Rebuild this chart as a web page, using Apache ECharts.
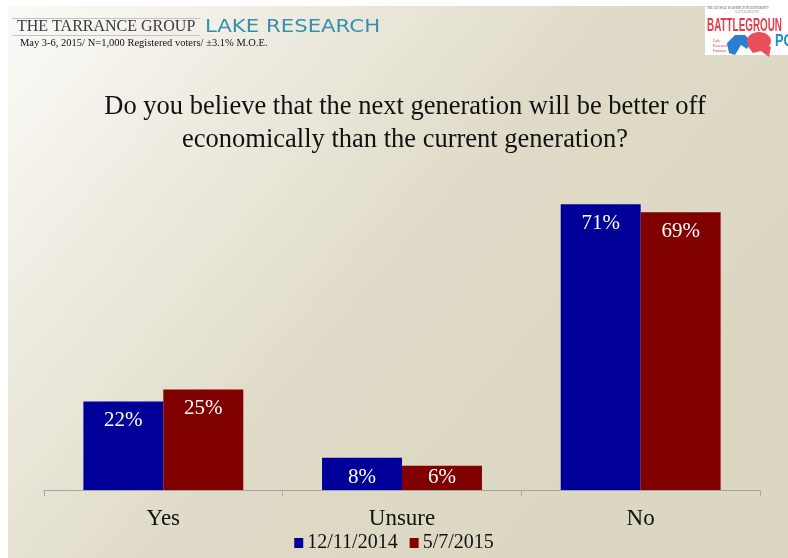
<!DOCTYPE html>
<html>
<head>
<meta charset="utf-8">
<script src="https://cdn.jsdelivr.net/npm/echarts@6/dist/echarts.min.js"></script>
<style>
  html, body { margin: 0; padding: 0; background: #ffffff; }
  #chart { width: 788px; height: 558px; }
</style>
</head>
<body>
<div id="chart"></div>
<script>
// Survey answers and results per wave
const categories = ['Yes', 'Unsure', 'No'];
const wave2014 = [22, 8, 71];
const wave2015 = [25, 6, 69];
const seriesNames = ['12/11/2014', '5/7/2015'];

const titleLines = [
  'Do you believe that the next generation will be better off',
  'economically than the current generation?'
];
const headerLeft = 'THE TARRANCE GROUP';
const headerRight = 'LAKE RESEARCH';
const methodology = 'May 3-6, 2015/ N=1,000 Registered voters/ \u00b13.1% M.O.E.';

const serif = '"Liberation Serif", "Times New Roman", serif';

// Small bars get their label centred rather than pinned to the top
function barData(values) {
  return values.map(v => v < 7 ? { value: v, label: { position: 'inside' } } : v);
}

const chart = echarts.init(document.getElementById('chart'), null, { renderer: 'canvas' });

const labelStyle = {
  show: true,
  position: 'insideTop',
  distance: 9,
  formatter: '{c}%',
  color: '#ffffff',
  fontFamily: serif,
  fontSize: 21
};

chart.setOption({
  backgroundColor: '#ffffff',
  animation: false,
  graphic: [
    // slide background: pale corner fading into beige
    {
      type: 'rect', z: -10, silent: true,
      shape: { x: 8, y: 6, width: 780, height: 552 },
      style: {
        fill: {
          type: 'linear', x: 0, y: 0, x2: 0.75, y2: 0.9,
          colorStops: [
            { offset: 0, color: '#fbfaf7' },
            { offset: 0.3, color: '#edeadf' },
            { offset: 0.6, color: '#e0dbc8' },
            { offset: 1, color: '#dcd7c1' }
          ]
        }
      }
    },
    // header rules around the left firm name
    { type: 'rect', silent: true, shape: { x: 12, y: 18, width: 188, height: 1 }, style: { fill: '#c4c4c4' } },
    { type: 'rect', silent: true, shape: { x: 12, y: 35, width: 188, height: 1 }, style: { fill: '#c4c4c4' } },
    {
      type: 'text', silent: true, left: 17, top: 19,
      style: { text: headerLeft, font: '16px ' + serif, fill: '#3a3a3a' }
    },
    {
      type: 'text', silent: true, x: 205, y: 19, scaleX: 1.25,
      style: { text: headerRight, font: '17px "DejaVu Sans", sans-serif', fill: '#3590ad' }
    },
    {
      type: 'text', silent: true, left: 20, top: 38,
      style: { text: methodology, font: '10.5px ' + serif, fill: '#111111' }
    },
    // question title, centred over the plot
    {
      type: 'text', silent: true, x: 405, y: 94,
      style: { text: titleLines[0], font: '26.5px ' + serif, fill: '#111111', align: 'center' }
    },
    {
      type: 'text', silent: true, x: 405, y: 127,
      style: { text: titleLines[1], font: '26.5px ' + serif, fill: '#111111', align: 'center' }
    },
    // poll badge, top right
    {
      type: 'group', left: 705, top: 5, silent: true,
      children: [
        { type: 'rect', shape: { x: 0, y: 0, width: 85, height: 50 }, style: { fill: '#ffffff' } },
        { type: 'text', x: 2, y: 1, scaleX: 0.8, style: { text: 'THE GEORGE WASHINGTON UNIVERSITY', font: '4px ' + serif, fill: '#555555' } },
        { type: 'text', x: 30, y: 6, style: { text: 'BATTLEGROUND', font: '3px ' + serif, fill: '#999999' } },
        { type: 'text', x: 2, y: 11, scaleX: 0.52, style: { text: 'BATTLEGROUN', font: 'bold 19px "Liberation Sans", sans-serif', fill: '#e63c4a' } },
        { type: 'text', x: 70, y: 28, scaleX: 0.75, style: { text: 'PO', font: 'bold 17px "Liberation Sans", sans-serif', fill: '#1a8fd0' } },
        { type: 'text', x: 8, y: 33, style: { text: 'Lake\nResearch\nPartners', font: '4px ' + serif, fill: '#d04050', lineHeight: 5 } },
        { type: 'polygon', shape: { points: [[22, 38], [30, 30], [40, 30], [46, 36], [42, 44], [36, 40], [30, 50], [24, 48]] }, style: { fill: '#2a7fd2' } },
        { type: 'ellipse', shape: { cx: 54, cy: 36, rx: 12, ry: 9 }, style: { fill: '#e94f5a' } },
        { type: 'polygon', shape: { points: [[42, 40], [48, 48], [56, 46], [64, 52], [66, 42], [58, 38]] }, style: { fill: '#e94f5a' } }
      ]
    }
  ],
  legend: {
    bottom: 0,
    left: 'center',
    itemWidth: 9,
    itemHeight: 10,
    itemGap: 12,
    icon: 'rect',
    data: seriesNames,
    textStyle: { fontFamily: serif, fontSize: 20, color: '#111111', padding: [0, 0, 0, -1] }
  },
  grid: { left: 44, right: 28, top: 168, bottom: 68, containLabel: false },
  xAxis: {
    type: 'category',
    data: categories,
    axisLine: { lineStyle: { color: '#a5a5a5', width: 1 } },
    axisTick: { show: true, length: 6, lineStyle: { color: '#a5a5a5' } },
    axisLabel: { fontFamily: serif, fontSize: 23, color: '#111111', margin: 17 }
  },
  yAxis: {
    type: 'value', min: 0, max: 80,
    show: false,
    splitLine: { show: false }
  },
  series: [
    {
      name: seriesNames[0], type: 'bar', data: barData(wave2014),
      barGap: '0%', barCategoryGap: '33%',
      itemStyle: { color: '#000099' },
      label: labelStyle
    },
    {
      name: seriesNames[1], type: 'bar', data: barData(wave2015),
      barGap: '0%', barCategoryGap: '33%',
      itemStyle: { color: '#800000' },
      label: labelStyle
    }
  ]
});
</script>
</body>
</html>
